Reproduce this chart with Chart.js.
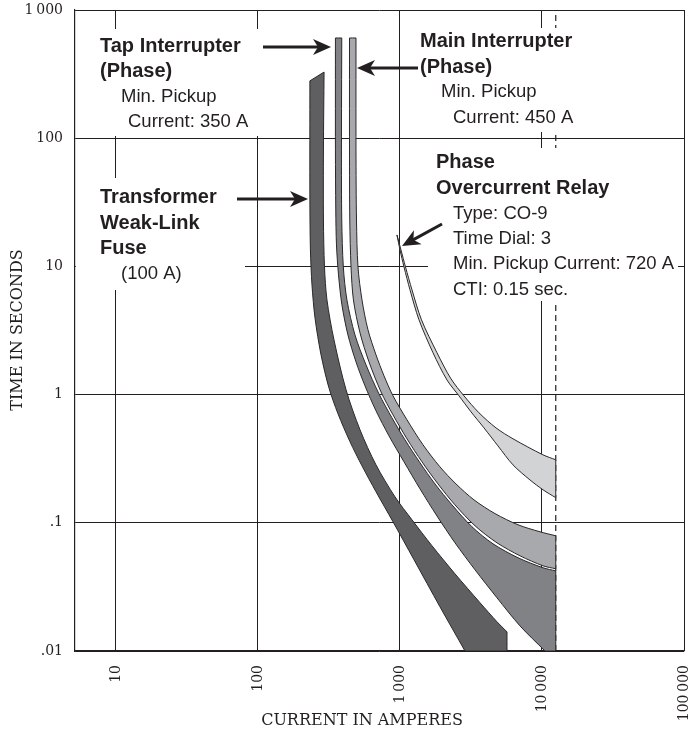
<!DOCTYPE html>
<html>
<head>
<meta charset="utf-8">
<script src="https://cdn.jsdelivr.net/npm/chart.js@4.4.1/dist/chart.umd.min.js"></script>
<style>
  html, body { margin: 0; padding: 0; background: #fff; }
  #wrap { width: 688px; height: 731px; }
</style>
</head>
<body>
<div id="wrap"><canvas id="tcc"></canvas></div>
<script>
// axis ticks
const currentTicks = [10, 100, 1000, 10000, 100000];
const currentTickLabels = ['10', '100', '1\u2009000', '10\u2009000', '100\u2009000'];
const timeTicks = [0.01, 0.1, 1, 10, 100, 1000];
const timeTickLabels = ['.01', '.1', '1', '10', '100', '1\u2009000'];

// band outlines (current in A, time in s), traced round each shape;
// *Corners = indices where the outline turns sharply
const fuseCurrent = [292, 289, 289, 294, 306, 343, 417, 523, 678, 922, 1215, 1680, 2440, 3660, 4820, 5670, 5670,
  2870, 1913, 1255, 893, 678, 540, 445, 366, 316, 278, 252, 240, 234, 232, 232, 292];
const fuseTime = [328, 81, 23, 9.91, 5.48, 2.67, 1.09, 0.531, 0.283, 0.1595, 0.1055, 0.0662, 0.04, 0.0238, 0.0169, 0.0141, 0.01,
  0.01, 0.0221, 0.0515, 0.1018, 0.1745, 0.278, 0.428, 0.708, 1.129, 2.04, 3.97, 7.18, 13.45, 33, 280, 328];
const fuseCorners = [15, 16, 17, 31];

const tapCurrent = [389, 387, 389, 399, 423, 482, 576, 711, 878, 1084, 1383, 1764, 2324, 3214, 4517, 6777, 10160, 12500, 12500,
  10500, 7000, 4820, 3375, 2440, 1822, 1383, 1067, 836, 678, 567, 490, 430, 390, 369, 357, 353, 351, 351, 389];
const tapTime = [605, 81, 23, 9.91, 5.48, 2.92, 1.71, 1.013, 0.659, 0.444, 0.294, 0.201, 0.138, 0.0931, 0.0686, 0.0534, 0.0446, 0.0422, 0.01,
  0.01, 0.0157, 0.026, 0.043, 0.0698, 0.113, 0.184, 0.299, 0.477, 0.747, 1.17, 1.8, 2.92, 5.01, 8.59, 14.7, 27.6, 81, 605, 605];
const tapCorners = [17, 18, 19, 37];

const mainCurrent = [490, 490, 494, 506, 540, 595, 678, 772, 893, 1120, 1452, 1913, 2480, 3320, 4667, 6777, 9680, 12500, 12500,
  10160, 7000, 4820, 3375, 2440, 1852, 1428, 1120, 893, 735, 605, 523, 470, 452, 443, 441, 441, 490];
const mainTime = [605, 81, 23, 9.91, 5.48, 3.2, 2.04, 1.4, 0.978, 0.636, 0.406, 0.273, 0.201, 0.151, 0.118, 0.0965, 0.0851, 0.0792, 0.0438,
  0.0462, 0.0553, 0.0698, 0.0948, 0.138, 0.201, 0.299, 0.452, 0.695, 1.05, 1.8, 3.03, 5.48, 9.91, 23, 81, 605, 605];
const mainCorners = [17, 18, 35];

const relayCurrent = [952, 1016, 1093, 1215, 1417, 1822, 2287, 2822, 3600, 4745, 6250, 10160, 12500,
  12500, 10160, 8230, 6250, 4898, 3904, 3162, 2603, 2143, 1708, 1361, 1176, 1067, 1000, 952];
const relayTime = [17.6, 13.45, 9.91, 6.56, 3.83, 2.12, 1.327, 0.978, 0.721, 0.55, 0.452, 0.339, 0.31,
  0.157, 0.181, 0.216, 0.283, 0.398, 0.55, 0.734, 0.978, 1.30, 2.12, 3.83, 6.56, 9.91, 13.45, 17.6];
const relayCorners = [12, 13];

// max fault current marker (dashed)
const ctiCurrent = [12500, 12500];
const ctiTime = [0.01, 1000];

const ink = '#231f20';

// corner points are pushed twice so the spline keeps them sharp
function band(xs, ys, corners, color) {
  const pts = [];
  xs.forEach((x, i) => {
    pts.push({ x: x, y: ys[i] });
    if (corners.includes(i)) pts.push({ x: x, y: ys[i] });
  });
  return {
    data: pts,
    showLine: true,
    fill: 'shape',
    backgroundColor: color,
    borderColor: '#2b2728',
    borderWidth: 1,
    pointRadius: 0,
    tension: 0.3
  };
}

// text blocks: white box, then lines of text
const notes = [
  { box: [92, 29, 170, 107], lines: [
    ['Tap Interrupter', 100, 52, true], ['(Phase)', 100, 77, true],
    ['Min. Pickup', 121, 102, false], ['Current: 350 A', 128, 127, false]] },
  { box: [410, 28, 190, 104], lines: [
    ['Main Interrupter', 420, 47, true], ['(Phase)', 420, 73, true],
    ['Min. Pickup', 441, 97, false], ['Current: 450 A', 453, 123, false]] },
  { box: [76, 178, 169, 112], lines: [
    ['Transformer', 100, 203, true], ['Weak-Link', 100, 229, true],
    ['Fuse', 100, 254, true], ['(100 A)', 121, 279, false]] },
  { box: [428, 148, 250, 153], lines: [
    ['Phase', 436, 168, true], ['Overcurrent Relay', 436, 194, true],
    ['Type: CO-9', 453, 219, false], ['Time Dial: 3', 453, 244, false],
    ['Min. Pickup Current: 720 A', 453, 269, false], ['CTI: 0.15 sec.', 453, 295, false]] }
];
const arrows = [[263, 47, 331, 47], [418, 68, 357, 68], [237, 199, 308, 199], [442, 224, 402, 246]];

function drawArrow(ctx, x1, y1, x2, y2) {
  const len = Math.hypot(x2 - x1, y2 - y1);
  ctx.save();
  ctx.translate(x2, y2);
  ctx.rotate(Math.atan2(y2 - y1, x2 - x1));
  ctx.strokeStyle = ink;
  ctx.fillStyle = ink;
  ctx.lineWidth = 3;
  ctx.beginPath();
  ctx.moveTo(-len, 0);
  ctx.lineTo(-10, 0);
  ctx.stroke();
  ctx.beginPath();
  ctx.moveTo(0, 0);
  ctx.lineTo(-18, -8);
  ctx.lineTo(-13, 0);
  ctx.lineTo(-18, 8);
  ctx.closePath();
  ctx.fill();
  ctx.restore();
}

const annotations = {
  id: 'annotations',
  afterDatasetsDraw(chart) {
    const ctx = chart.ctx;
    ctx.save();
    notes.forEach(n => {
      ctx.fillStyle = '#fff';
      ctx.fillRect(n.box[0], n.box[1], n.box[2], n.box[3]);
    });
    ctx.fillStyle = ink;
    ctx.textBaseline = 'alphabetic';
    ctx.textAlign = 'left';
    notes.forEach(n => {
      n.lines.forEach(([t, x, y, bold]) => {
        ctx.font = bold ? 'bold 20px "Liberation Sans"' : '18.5px "Liberation Sans"';
        ctx.fillText(t, x, y);
      });
    });
    arrows.forEach(a => drawArrow(ctx, a[0], a[1], a[2], a[3]));

    // axis titles
    ctx.font = '16px "DejaVu Serif"';
    ctx.textAlign = 'center';
    ctx.textBaseline = 'middle';
    ctx.fillText('CURRENT IN AMPERES', 362, 721);
    ctx.translate(18, 330);
    ctx.rotate(-Math.PI / 2);
    ctx.fillText('TIME IN SECONDS', 0, 0);
    ctx.restore();
  }
};

new Chart(document.getElementById('tcc'), {
  type: 'scatter',
  data: {
    datasets: [
      band(fuseCurrent, fuseTime, fuseCorners, '#5f5f62'),
      band(tapCurrent, tapTime, tapCorners, '#818285'),
      band(mainCurrent, mainTime, mainCorners, '#a8a9ac'),
      band(relayCurrent, relayTime, relayCorners, '#d2d3d5'),
      {
        data: ctiCurrent.map((x, i) => ({ x: x, y: ctiTime[i] })),
        showLine: true,
        borderColor: ink,
        borderWidth: 1.2,
        borderDash: [6, 4],
        pointRadius: 0
      }
    ]
  },
  options: {
    responsive: true,
    maintainAspectRatio: false,
    animation: false,
    layout: { padding: { top: 10, right: 4, bottom: 0, left: 0 } },
    plugins: { legend: { display: false }, tooltip: { enabled: false } },
    scales: {
      x: {
        type: 'logarithmic',
        min: 5.145,
        max: 100000,
        afterBuildTicks: s => { s.ticks = currentTicks.map(v => ({ value: v })); },
        afterFit: s => { s.height = 80; s.paddingLeft = 0; s.paddingRight = 0; },
        grid: { color: ink, lineWidth: 1, drawTicks: false },
        border: { color: ink, width: 1.2 },
        ticks: {
          autoSkip: false,
          minRotation: 90,
          maxRotation: 90,
          padding: 14,
          color: ink,
          font: { family: 'DejaVu Serif', size: 14 },
          callback: (v, i) => currentTickLabels[i]
        }
      },
      y: {
        type: 'logarithmic',
        min: 0.01,
        max: 1000,
        afterBuildTicks: s => { s.ticks = timeTicks.map(v => ({ value: v })); },
        afterFit: s => { s.width = 75; s.paddingTop = 0; s.paddingBottom = 0; },
        grid: { color: ink, lineWidth: 1, drawTicks: false },
        border: { color: ink, width: 1.2 },
        ticks: {
          autoSkip: false,
          padding: 12,
          color: ink,
          font: { family: 'DejaVu Serif', size: 14 },
          callback: (v, i) => timeTickLabels[i]
        }
      }
    }
  },
  plugins: [annotations]
});
</script>
</body>
</html>
